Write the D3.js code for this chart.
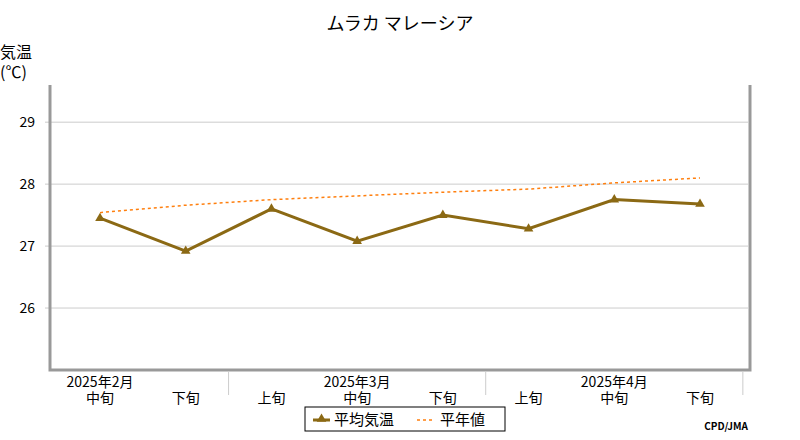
<!DOCTYPE html>
<html><head><meta charset="utf-8">
<script src="https://cdn.jsdelivr.net/npm/d3@7"></script>
<style>body{margin:0;background:#fff}text{font-family:"Noto Sans CJK JP","DejaVu Sans",sans-serif}</style>
</head><body>
<script>
const periods = ["中旬","下旬","上旬","中旬","下旬","上旬","中旬","下旬"];
const months = [{label:"2025年2月", at:0},{label:"2025年3月", at:3},{label:"2025年4月", at:6}];
const monthBreaks = [1.5, 4.5, 7.5];
const avgTemp = [27.45, 26.92, 27.6, 27.08, 27.5, 27.28, 27.75, 27.68];
const normalTemp = [27.54, 27.66, 27.75, 27.81, 27.87, 27.92, 28.02, 28.1];
const yTicks = [26, 27, 28, 29];

const W = 800, H = 440;
const svg = d3.select("body").append("svg").attr("width", W).attr("height", H);

const x = d3.scaleLinear().domain([0, 7]).range([100, 700]);
const y = d3.scaleLinear().domain([25, 29.6]).range([370, 85]);

svg.append("text").attr("x", 400).attr("y", 30).attr("text-anchor", "middle")
    .style("font-size", "18px").text("ムラカ マレーシア");
svg.append("text").attr("x", 0).attr("y", 58).style("font-size", "16px").text("気温");
svg.append("text").attr("x", 0).attr("y", 78).style("font-size", "16px").text("(℃)");

// grid
svg.selectAll(".grid").data(yTicks).enter().append("line")
    .attr("x1", 45).attr("x2", 748)
    .attr("y1", d => y(d)).attr("y2", d => y(d))
    .attr("stroke", "#ccc");
svg.selectAll(".ytick").data(yTicks).enter().append("text")
    .attr("x", 35).attr("y", d => y(d) + 5).attr("text-anchor", "end")
    .style("font-size", "14px").text(d => d);

// frame
svg.append("path").attr("d", `M50,85V370H750V85`).attr("fill", "none")
    .attr("stroke", "#999").attr("stroke-width", 3);

// x labels
svg.selectAll(".sep").data(monthBreaks).enter().append("line")
    .attr("x1", d => x(d)).attr("x2", d => x(d)).attr("y1", 372).attr("y2", 395)
    .attr("stroke", "#ccc");
svg.selectAll(".mon").data(months).enter().append("text")
    .attr("x", d => x(d.at)).attr("y", 387).attr("text-anchor", "middle")
    .style("font-size", "14px").text(d => d.label);
svg.selectAll(".per").data(periods).enter().append("text")
    .attr("x", (d, i) => x(i)).attr("y", 403).attr("text-anchor", "middle")
    .style("font-size", "14px").text(d => d);

// lines
const line = d3.line().x((d, i) => x(i)).y(d => y(d));
svg.append("path").datum(normalTemp).attr("d", line).attr("fill", "none")
    .attr("stroke", "#ff7f0e").attr("stroke-width", 1.5).attr("stroke-dasharray", "3,3");
svg.append("path").datum(avgTemp).attr("d", line).attr("fill", "none")
    .attr("stroke", "#8b6914").attr("stroke-width", 3);
const tri = d3.symbol().type(d3.symbolTriangle).size(40);
svg.selectAll(".pt").data(avgTemp).enter().append("path")
    .attr("d", tri).attr("transform", (d, i) => `translate(${x(i)},${y(d)})`)
    .attr("fill", "#8b6914");

// legend
const lg = svg.append("g");
lg.append("rect").attr("x", 305).attr("y", 407).attr("width", 200).attr("height", 24)
    .attr("fill", "#fff").attr("stroke", "#000");
lg.append("line").attr("x1", 313).attr("x2", 330).attr("y1", 420).attr("y2", 420)
    .attr("stroke", "#8b6914").attr("stroke-width", 3);
lg.append("path").attr("d", tri).attr("transform", "translate(321.5,419)").attr("fill", "#8b6914");
lg.append("text").attr("x", 334).attr("y", 425).style("font-size", "15px").text("平均気温");
lg.append("line").attr("x1", 417).attr("x2", 434).attr("y1", 420).attr("y2", 420)
    .attr("stroke", "#ff7f0e").attr("stroke-width", 1.5).attr("stroke-dasharray", "3,3");
lg.append("text").attr("x", 440).attr("y", 425).style("font-size", "15px").text("平年値");

svg.append("text").attr("x", 748).attr("y", 430).attr("text-anchor", "end")
    .style("font-size", "10px").style("font-weight", "bold").text("CPD/JMA");
</script>
</body></html>
